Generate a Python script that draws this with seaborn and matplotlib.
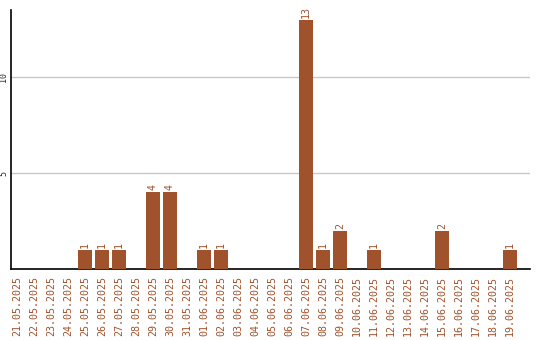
import matplotlib
matplotlib.use("Agg")
import matplotlib.pyplot as plt
import seaborn as sns
import pandas as pd

dates = ["21.05.2025", "22.05.2025", "23.05.2025", "24.05.2025", "25.05.2025",
         "26.05.2025", "27.05.2025", "28.05.2025", "29.05.2025", "30.05.2025",
         "31.05.2025", "01.06.2025", "02.06.2025", "03.06.2025", "04.06.2025",
         "05.06.2025", "06.06.2025", "07.06.2025", "08.06.2025", "09.06.2025",
         "10.06.2025", "11.06.2025", "12.06.2025", "13.06.2025", "14.06.2025",
         "15.06.2025", "16.06.2025", "17.06.2025", "18.06.2025", "19.06.2025"]
counts = [0, 0, 0, 0, 1, 1, 1, 0, 4, 4, 0, 1, 1, 0, 0, 0, 0, 13, 1, 2,
          0, 1, 0, 0, 0, 2, 0, 0, 0, 1]
yticks = [5, 10]

color = "#A0522D"
sns.set_style("white")
plt.rcParams['font.family'] = ['DejaVu Sans Mono', 'DejaVu Sans']

df = pd.DataFrame({"date": dates, "count": counts})
fig = plt.figure(figsize=(5.4, 3.4), dpi=100)
ax = fig.add_axes([11/540, 71/340, 519/540, 259/340])
sns.barplot(data=df, x="date", y="count", color=color, saturation=1,
            width=0.82, linewidth=0, ax=ax, zorder=3)
for p in ax.patches:
    if p.get_height() == 0:
        p.set_visible(False)
ax.set_ylim(0, 13.5)
ax.set_xlim(-0.353, 30.18)
ax.set_yticks(yticks)
ax.set_yticklabels([str(v) for v in yticks], rotation=90, fontsize=6, va="center")
ax.yaxis.grid(True, color="#c8c8c8", linewidth=1, zorder=0)
ax.set_axisbelow(True)
ax.tick_params(axis="both", length=0, pad=2)
ax.tick_params(axis="x", pad=5)
ax.set_xticks(range(len(dates)))
ax.set_xticklabels(dates, rotation=90, fontsize=7.2, color=color)
ax.set_xlabel("")
ax.set_ylabel("")
for s in ["top", "right"]:
    ax.spines[s].set_visible(False)
for s in ["left", "bottom"]:
    ax.spines[s].set_color("black")
    ax.spines[s].set_linewidth(1.2)
for i, v in enumerate(counts):
    if v > 0:
        ax.text(i, v + 0.1, str(v), rotation=90, ha="center", va="bottom",
                fontsize=7.2, color=color)
fig.savefig("out.png", dpi=100)
